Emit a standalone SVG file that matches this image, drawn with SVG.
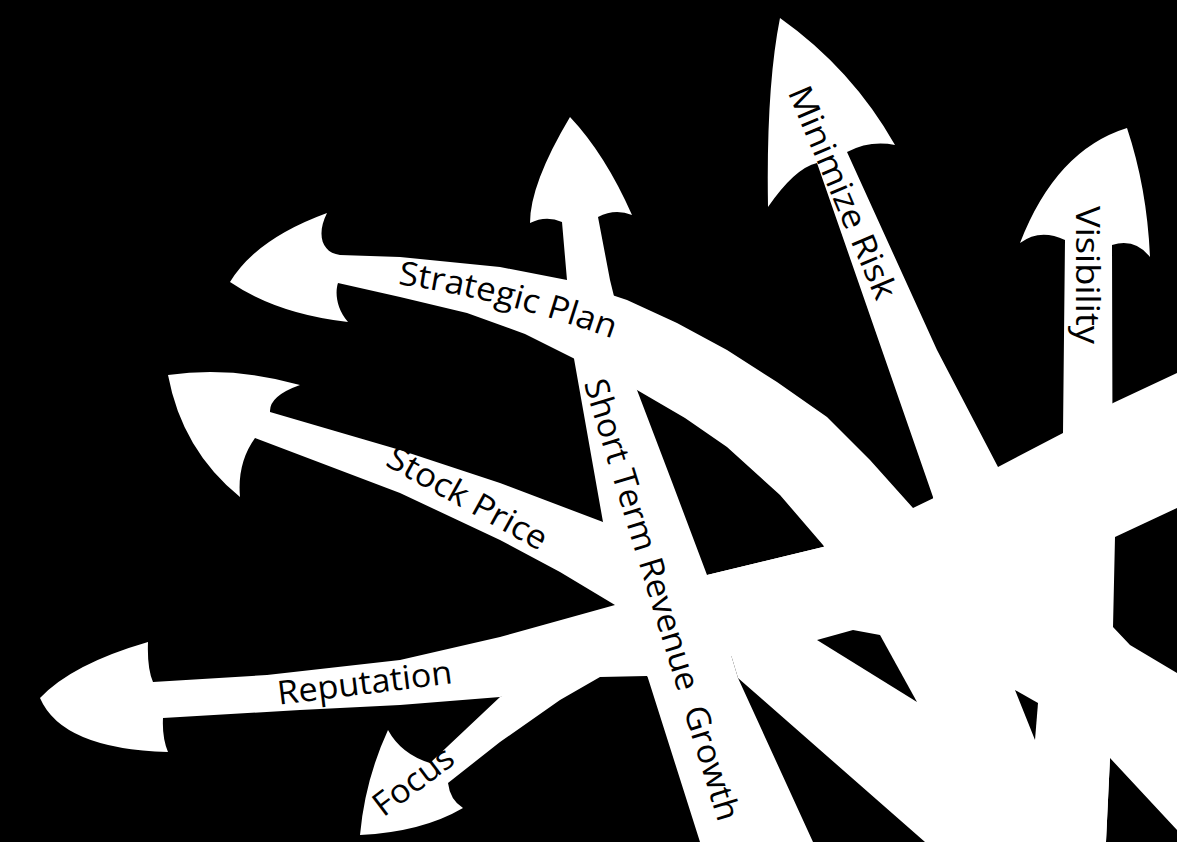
<svg xmlns="http://www.w3.org/2000/svg" width="1177" height="842" viewBox="0 0 1177 842">
  <style>
    .w { fill: #ffffff; }
    .k { fill: #000000; }
    .lbl { font-family: "Open Sans", "Liberation Sans", sans-serif; font-size: 33px; fill: #000000; }
  </style>
  <defs>
    <path id="sp-base" d="M395,284 Q502,298 625,343"/>
  </defs>
  <rect id="background" x="0" y="0" width="1177" height="842" class="k"/>
  <g id="shapes">
    <g id="hub"><path class="w" d="M913,508 L998,467 L1063,433 L1113,403 L1177,373 L1177,508 L1115,537 L1113,627 L1130,645 L1177,673 L1177,830 L1110,758 L1106,842 L925,842 L738,678 L707,575 L823,547 Z"/></g>
    <g id="strategic-plan"><path class="w" d="M340,255 C322,253 316,235 327,213 Q256,239 230,282 Q277,314 348,322 C336,308 335,292 338,283 L400,297 L467,313 L525,334 L577,360 L637,390 L685,418 L727,447 L780,495 L823,545 L880,635 L917,702 L985,700 L960,580 L913,508 L870,460 L827,417 L777,382 L727,350 L677,323 L627,300 L567,280 L500,267 L400,257 Z"/></g>
    <g id="minimize-risk"><path class="w" d="M780,18 Q852,69 895,145 Q870,140 847,152 L937,350 L998,467 L1000,540 L935,540 L933,497 L817,163 Q795,168 768,207 Q766,88 780,18 Z"/></g>
    <g id="visibility"><path class="w" d="M1127,128 Q1147,188 1150,257 Q1135,238 1112,245 L1113,627 L1110,758 L1106,842 L1063,842 L1063,433 L1065,240 Q1040,228 1020,243 Q1056,150 1127,128 Z"/></g>
    <g id="stock-price"><path class="w" d="M168,375 Q234,366 300,385 Q269,396 270,412 L400,450 L500,483 L603,522 L645,545 L645,612 L615,605 L560,572 L500,540 L400,493 L255,438 Q237,463 240,497 Q182,450 168,375 Z"/></g>
    <g id="reputation"><path class="w" d="M40,698 Q72,664 148,642 Q147,668 153,682 L267,675 L400,660 L500,637 L615,605 L707,575 L823,547 L905,528 L910,622 L880,633 L853,628 L817,638 L740,655 L650,668 L600,676 L560,684 L500,697 L400,705 L300,710 L163,718 Q162,738 168,752 Q62,749 40,698 Z"/></g>
    <g id="focus"><path class="w" d="M360,835 Q365,780 388,730 Q401,754 430,763 L500,697 L560,670 L660,660 L662,690 L647,676 L600,677 L560,700 L500,742 L448,783 Q450,800 463,808 Q422,832 360,835 Z"/></g>
    <g id="short-term-revenue-growth"><path class="w" d="M570,117 Q605,154 632,215 Q615,208 598,217 L610,280 L637,390 L672,482 L707,575 L738,678 L813,842 L700,842 L647,675 L603,522 L573,353 L567,280 L562,222 Q546,215 530,223 Q530,184 570,117 Z"/></g>
    <g id="gaps">
      <path class="k" d="M817,640 L853,630 L880,635 L917,702 Z"/>
      <path class="k" d="M1015,690 L1038,703 L1035,740 Z"/>
    </g>
  </g>
  <g id="labels">
    <text id="label-strategic-plan" class="lbl"><textPath href="#sp-base" startOffset="3" textLength="222" lengthAdjust="spacingAndGlyphs">Strategic Plan</textPath></text>
    <text id="label-stock-price" class="lbl" text-anchor="middle" textLength="178" lengthAdjust="spacingAndGlyphs" transform="translate(462,508) rotate(29)">Stock Price</text>
    <text id="label-reputation" class="lbl" text-anchor="middle" textLength="176" lengthAdjust="spacingAndGlyphs" transform="translate(366,694) rotate(-7)">Reputation</text>
    <text id="label-focus" class="lbl" text-anchor="middle" textLength="92" lengthAdjust="spacingAndGlyphs" transform="translate(420,790) rotate(-37)">Focus</text>
    <text id="label-minimize-risk" class="lbl" text-anchor="middle" textLength="228" lengthAdjust="spacingAndGlyphs" transform="translate(832,197) rotate(67)">Minimize Risk</text>
    <text id="label-visibility" class="lbl" text-anchor="middle" textLength="138" lengthAdjust="spacingAndGlyphs" transform="translate(1076,275) rotate(90)">Visibility</text>
    <text id="label-short-term" class="lbl" xml:space="preserve" text-anchor="middle" textLength="460" lengthAdjust="spacingAndGlyphs" transform="translate(651,603) rotate(73)">Short Term Revenue  Growth</text>
  </g>
</svg>
